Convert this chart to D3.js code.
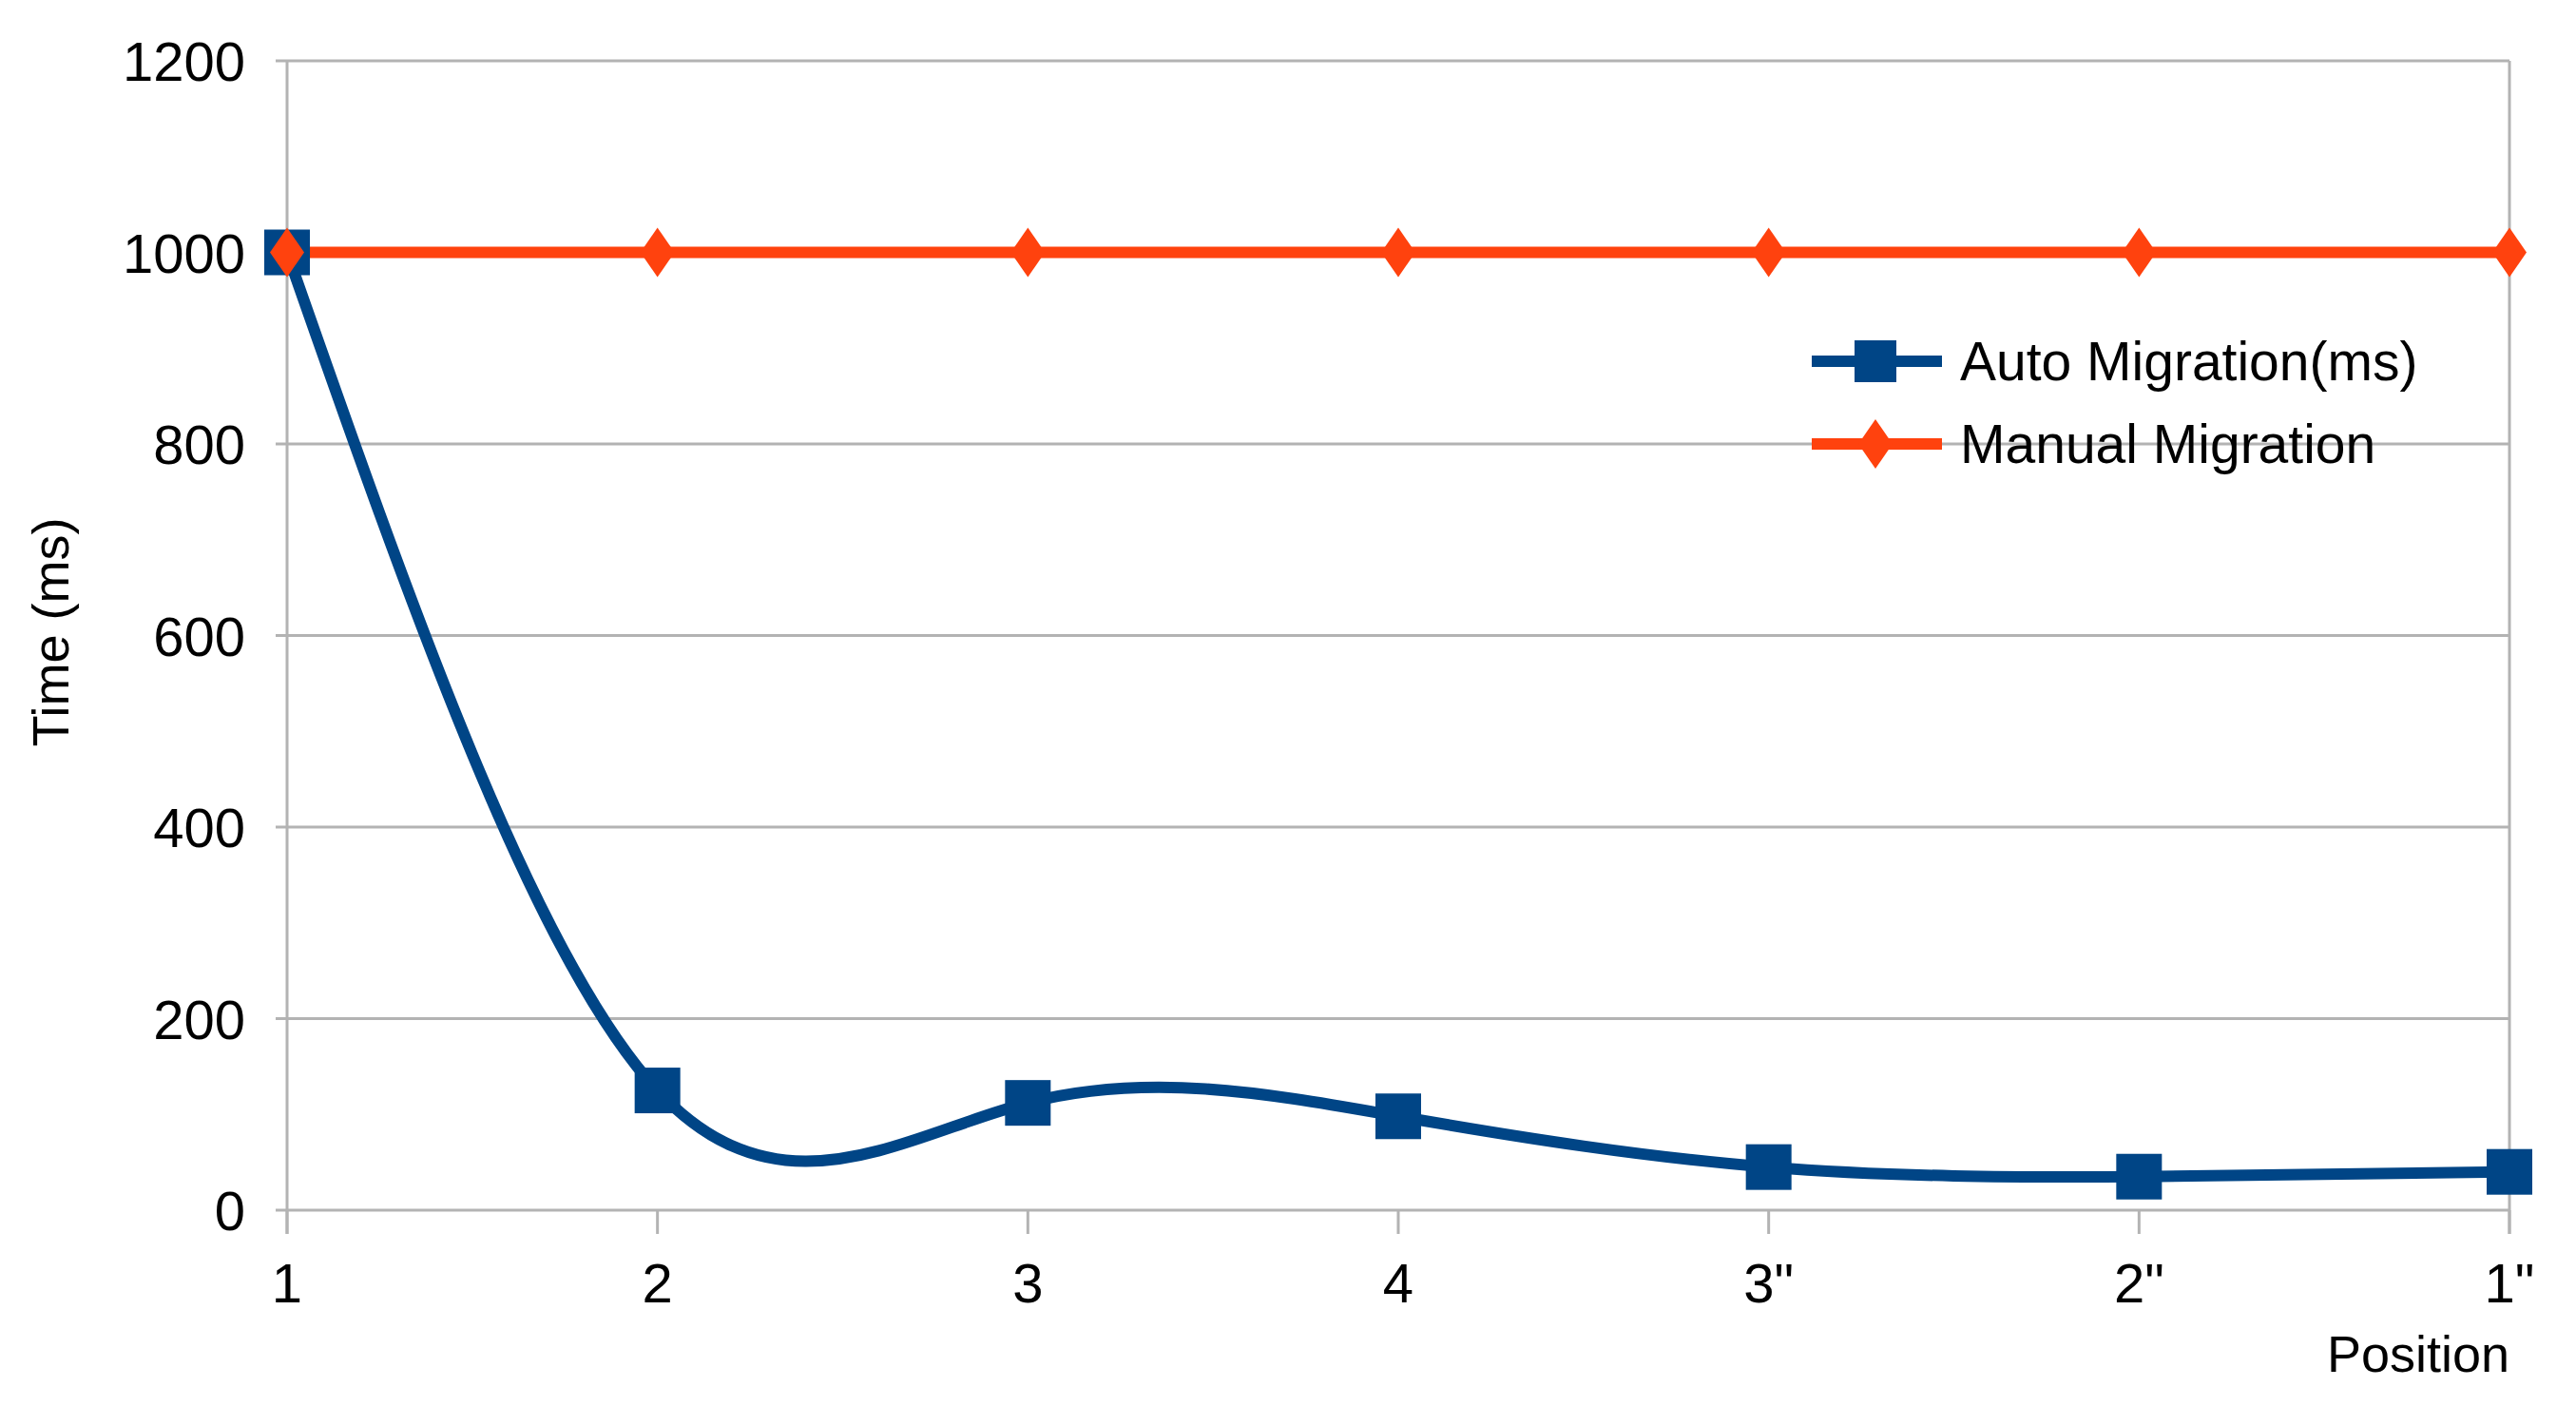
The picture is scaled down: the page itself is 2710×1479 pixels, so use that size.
<!DOCTYPE html>
<html><head><meta charset="utf-8">
<script src="https://cdn.jsdelivr.net/npm/d3@7"></script>
<style>body{margin:0;background:#fff}text{font-family:"Liberation Sans",Arial,sans-serif;fill:#000}</style>
</head><body>
<svg id="chart" width="2710" height="1479"></svg>
<script>
// data
var positions = ["1", "2", "3", "4", "3\"", "2\"", "1\""];
var autoMigration = [1000, 125, 112, 98, 45, 35, 40];
var manualMigration = [1000, 1000, 1000, 1000, 1000, 1000, 1000];
var yTicks = [0, 200, 400, 600, 800, 1000, 1200];

var svg = d3.select("#chart");
var plotLeft = 302, plotRight = 2640, plotTop = 64, plotBottom = 1273;

var x = d3.scalePoint().domain(positions).range([plotLeft, plotRight]);
var y = d3.scaleLinear().domain([0, 1200]).range([plotBottom, plotTop]);

// grid
svg.append("g").selectAll("line").data(yTicks).enter().append("line")
	.attr("x1", plotLeft - 12).attr("x2", plotRight)
	.attr("y1", function(d) { return y(d); }).attr("y2", function(d) { return y(d); })
	.attr("stroke", "#b3b3b3").attr("stroke-width", 3);
svg.append("line").attr("x1", plotLeft).attr("x2", plotLeft).attr("y1", plotTop).attr("y2", plotBottom + 25)
	.attr("stroke", "#b3b3b3").attr("stroke-width", 3);
svg.append("line").attr("x1", plotRight).attr("x2", plotRight).attr("y1", plotTop).attr("y2", plotBottom + 25)
	.attr("stroke", "#b3b3b3").attr("stroke-width", 3);
svg.append("g").selectAll("line").data(positions).enter().append("line")
	.attr("x1", function(d) { return x(d); }).attr("x2", function(d) { return x(d); })
	.attr("y1", plotBottom).attr("y2", plotBottom + 25)
	.attr("stroke", "#b3b3b3").attr("stroke-width", 3);

// tick labels
svg.append("g").selectAll("text").data(yTicks).enter().append("text")
	.attr("x", 258).attr("y", function(d) { return y(d) + 21; })
	.attr("text-anchor", "end").attr("font-size", 58).text(function(d) { return d; });
svg.append("g").selectAll("text").data(positions).enter().append("text")
	.attr("x", function(d) { return x(d); }).attr("y", 1370)
	.attr("text-anchor", "middle").attr("font-size", 58).text(function(d) { return d; });

svg.append("text").attr("transform", "translate(72,665) rotate(-90)")
	.attr("text-anchor", "middle").attr("font-size", 54).text("Time (ms)");
svg.append("text").attr("x", plotRight).attr("y", 1443)
	.attr("text-anchor", "end").attr("font-size", 54).text("Position");

// series
var blue = "#004586", orange = "#ff420e";
var line = d3.line().x(function(d, i) { return x(positions[i]); }).y(function(d) { return y(d); });

svg.append("path").datum(autoMigration).attr("d", line.curve(d3.curveNatural))
	.attr("fill", "none").attr("stroke", blue).attr("stroke-width", 12);
svg.append("path").datum(manualMigration).attr("d", line.curve(d3.curveLinear))
	.attr("fill", "none").attr("stroke", orange).attr("stroke-width", 12);

svg.append("g").selectAll("rect").data(autoMigration).enter().append("rect")
	.attr("x", function(d, i) { return x(positions[i]) - 24; })
	.attr("y", function(d) { return y(d) - 24; })
	.attr("width", 48).attr("height", 48).attr("fill", blue);

var diamond = "M0,-26L18,0L0,26L-18,0Z";
svg.append("g").selectAll("path").data(manualMigration).enter().append("path")
	.attr("d", diamond)
	.attr("transform", function(d, i) { return "translate(" + x(positions[i]) + "," + y(d) + ")"; })
	.attr("fill", orange);

// legend
var legend = [
	{ name: "Auto Migration(ms)", color: blue, shape: "square", y: 380 },
	{ name: "Manual Migration", color: orange, shape: "diamond", y: 467 }
];
legend.forEach(function(l) {
	svg.append("line").attr("x1", 1906).attr("x2", 2043).attr("y1", l.y).attr("y2", l.y)
		.attr("stroke", l.color).attr("stroke-width", 12);
	if (l.shape == "square") {
		svg.append("rect").attr("x", 1973 - 22).attr("y", l.y - 22).attr("width", 44).attr("height", 44).attr("fill", l.color);
	} else {
		svg.append("path").attr("d", diamond).attr("transform", "translate(1973," + l.y + ")").attr("fill", l.color);
	}
	svg.append("text").attr("x", 2062).attr("y", l.y + 20).attr("font-size", 57).text(l.name);
});
</script>
</body></html>
